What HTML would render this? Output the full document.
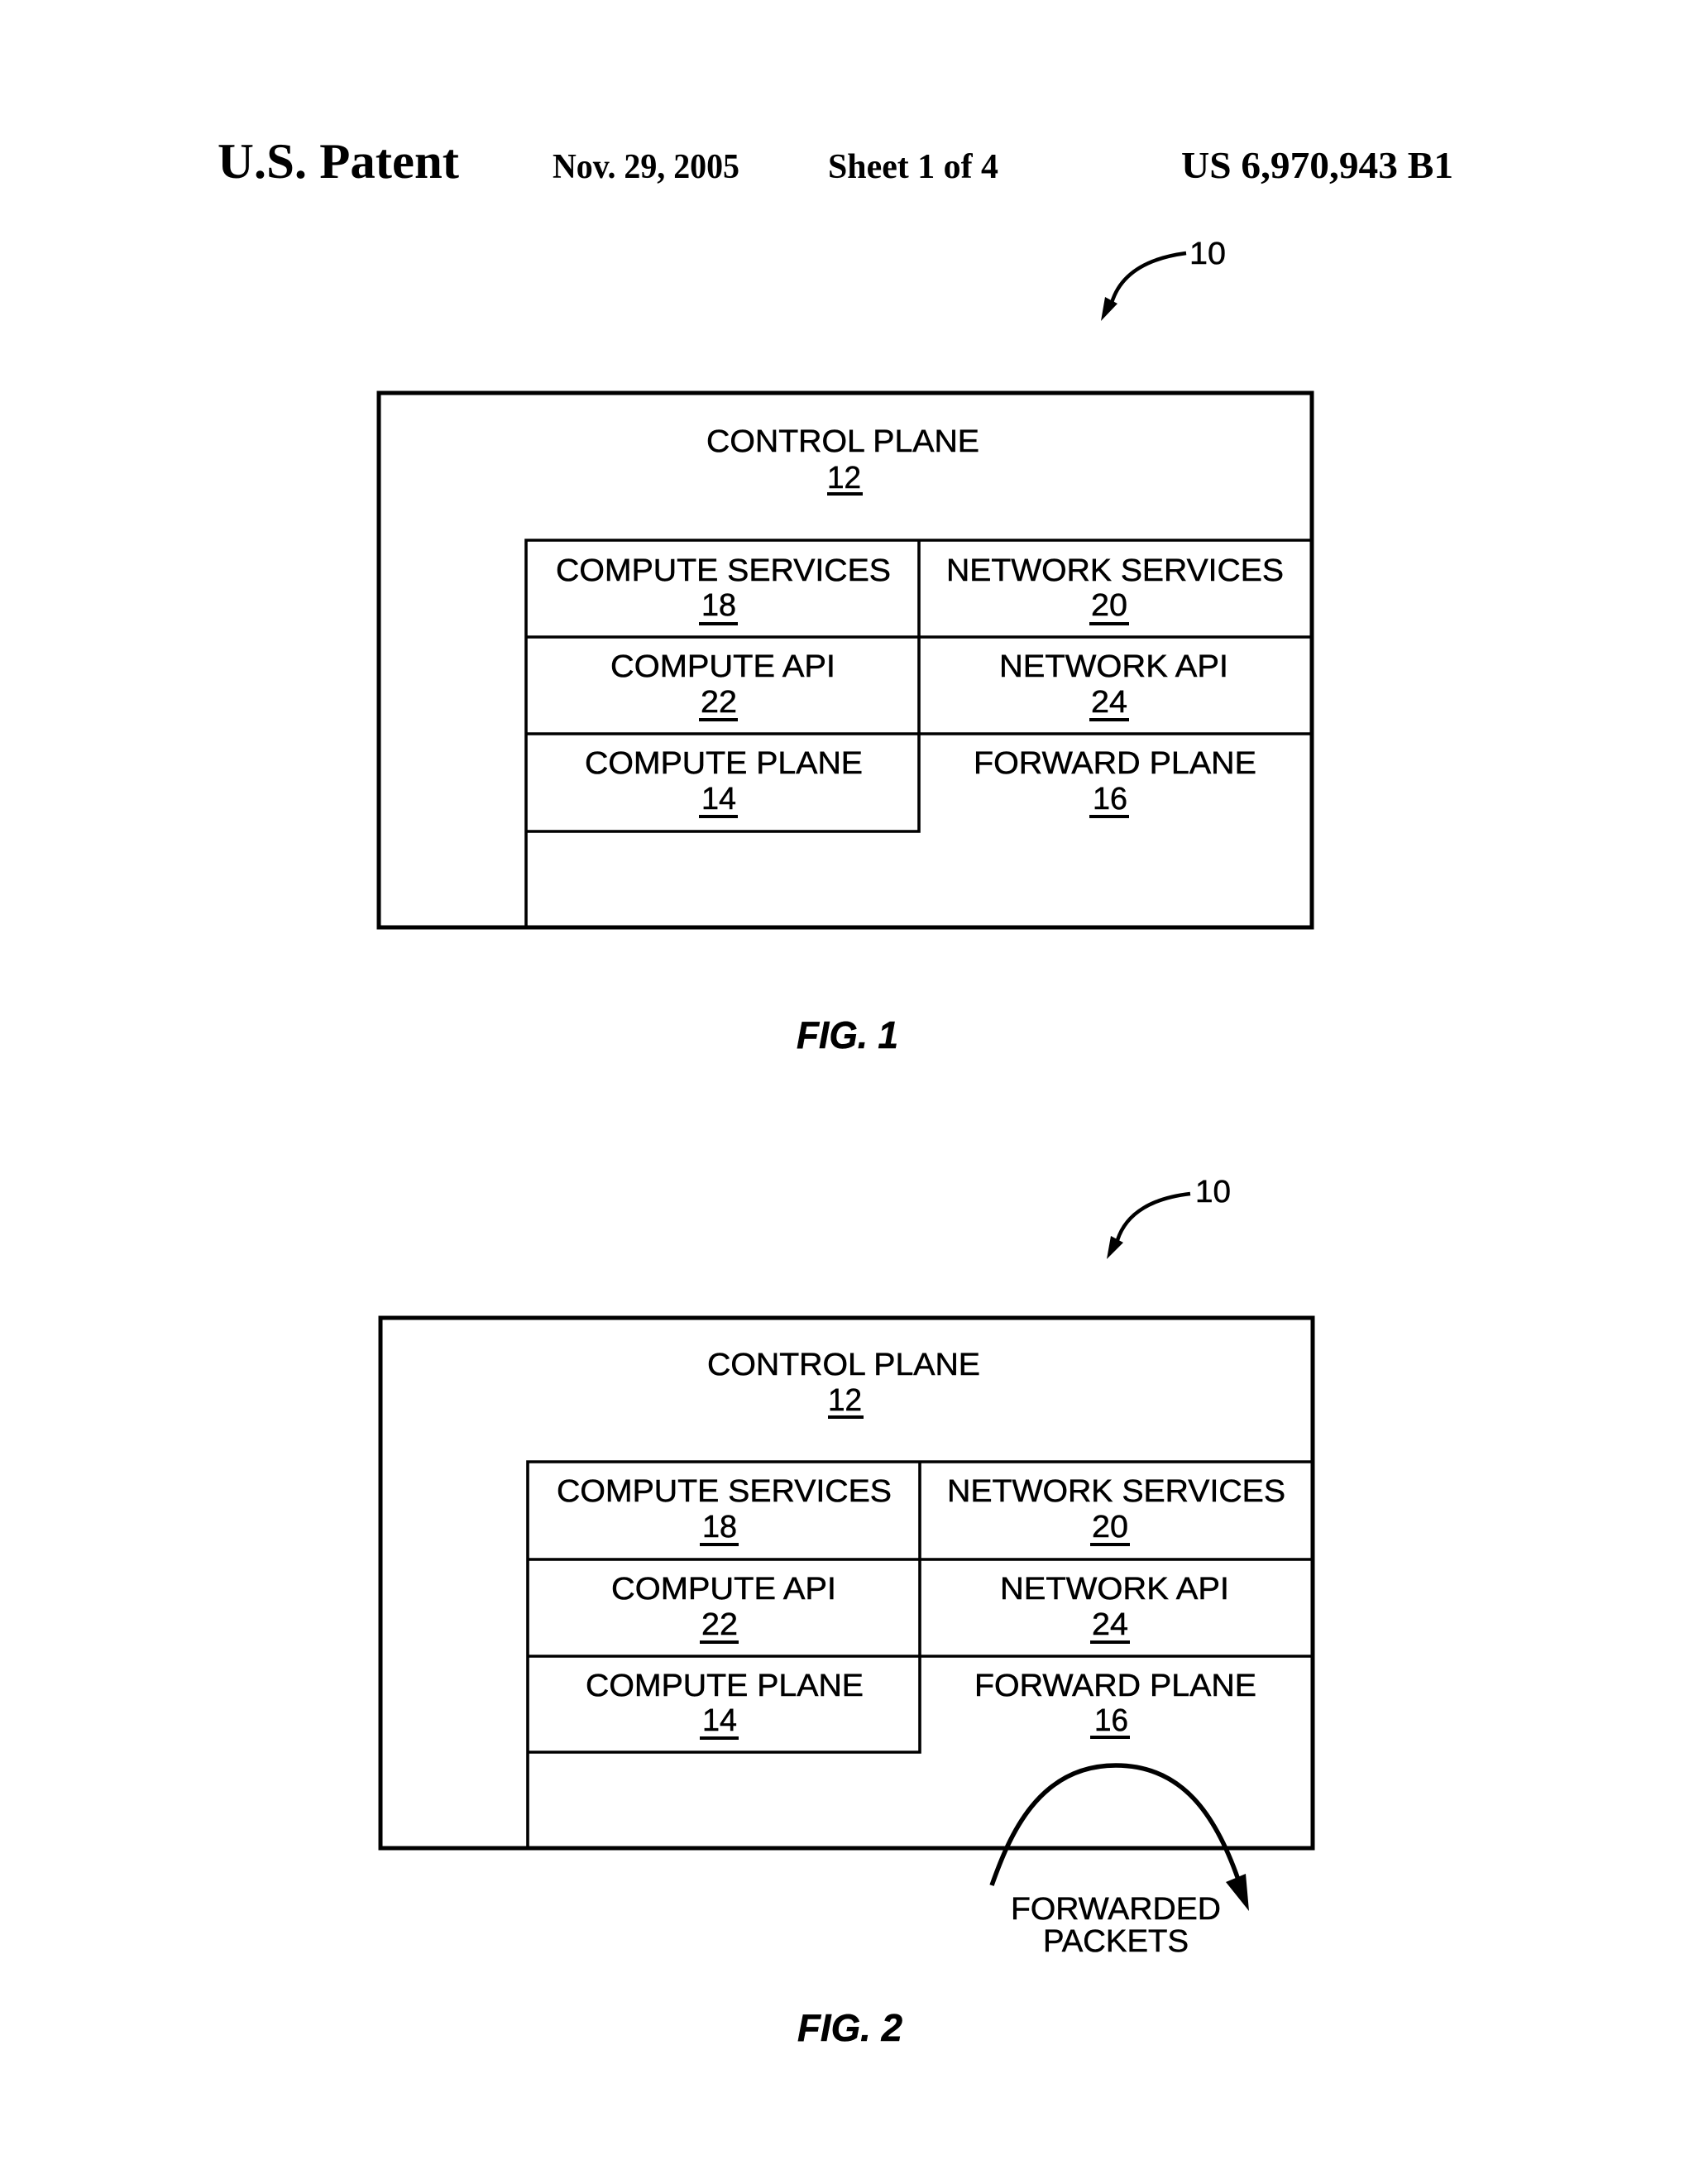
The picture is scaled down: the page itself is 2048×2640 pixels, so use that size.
<!DOCTYPE html>
<html><head><meta charset="utf-8"><style>
html,body{margin:0;padding:0;background:#fff;width:2048px;height:2640px;overflow:hidden}
svg{display:block}
text{fill:#000;stroke:#000;stroke-width:.5px;font-family:"Liberation Sans",sans-serif;font-size:38px}
.h{font-family:"Liberation Serif",serif;font-weight:bold;stroke-width:0}
.f{font-weight:bold;font-style:italic;font-size:46px}
</style></head><body>
<svg width="2048" height="2640" viewBox="0 0 2048 2640" xmlns="http://www.w3.org/2000/svg">
<rect width="2048" height="2640" fill="#fff"/>
<text class="h" x="263" y="215" style="font-size:60px" textLength="292" lengthAdjust="spacingAndGlyphs">U.S. Patent</text>
<text class="h" x="668" y="215" style="font-size:42px" textLength="226" lengthAdjust="spacingAndGlyphs">Nov. 29, 2005</text>
<text class="h" x="1001" y="215" style="font-size:42px" textLength="206" lengthAdjust="spacingAndGlyphs">Sheet 1 of 4</text>
<text class="h" x="1428" y="215" style="font-size:46px" textLength="329" lengthAdjust="spacingAndGlyphs">US 6,970,943 B1</text>

<!-- FIG 1 -->
<g fill="none" stroke="#000" stroke-linecap="square">
<rect x="458" y="475" width="1128" height="646" stroke-width="5"/>
<path d="M636 1121V653H1586M636 770H1586M636 887H1586M636 1005H1111V653" stroke-width="3.6"/>
</g>
<path d="M1434 306C1388 312 1355 330 1344 366" fill="none" stroke="#000" stroke-width="4.5"/>
<polygon points="1331,388 1336,359 1351,367" fill="#000"/>
<text x="1438" y="319" textLength="44" lengthAdjust="spacingAndGlyphs">10</text>
<text x="854" y="546" textLength="330" lengthAdjust="spacingAndGlyphs">CONTROL PLANE</text>
<text x="1000" y="590" textLength="41" lengthAdjust="spacingAndGlyphs">12</text>
<rect x="1000" y="595" width="43" height="4"/>
<text x="672" y="702" textLength="405" lengthAdjust="spacingAndGlyphs">COMPUTE SERVICES</text>
<text x="848" y="744" textLength="42" lengthAdjust="spacingAndGlyphs">18</text>
<rect x="845" y="752" width="47" height="4"/>
<text x="1144" y="702" textLength="408" lengthAdjust="spacingAndGlyphs">NETWORK SERVICES</text>
<text x="1319" y="744" textLength="44" lengthAdjust="spacingAndGlyphs">20</text>
<rect x="1317" y="752" width="48" height="4"/>
<text x="738" y="818" textLength="272" lengthAdjust="spacingAndGlyphs">COMPUTE API</text>
<text x="847" y="861" textLength="44" lengthAdjust="spacingAndGlyphs">22</text>
<rect x="845" y="868" width="47" height="4"/>
<text x="1208" y="818" textLength="277" lengthAdjust="spacingAndGlyphs">NETWORK API</text>
<text x="1319" y="861" textLength="44" lengthAdjust="spacingAndGlyphs">24</text>
<rect x="1317" y="868" width="48" height="4"/>
<text x="707" y="935" textLength="336" lengthAdjust="spacingAndGlyphs">COMPUTE PLANE</text>
<text x="848" y="978" textLength="42" lengthAdjust="spacingAndGlyphs">14</text>
<rect x="845" y="985" width="47" height="4"/>
<text x="1177" y="935" textLength="342" lengthAdjust="spacingAndGlyphs">FORWARD PLANE</text>
<text x="1321" y="978" textLength="42" lengthAdjust="spacingAndGlyphs">16</text>
<rect x="1317" y="985" width="48" height="4"/>
<text class="f" x="963" y="1267" textLength="123" lengthAdjust="spacingAndGlyphs">FIG. 1</text>

<!-- FIG 2 -->
<g fill="none" stroke="#000" stroke-linecap="square">
<rect x="460" y="1593" width="1127" height="641" stroke-width="5"/>
<path d="M638 2234V1767H1587M638 1885H1587M638 2002H1587M638 2118H1112V1767" stroke-width="3.6"/>
</g>
<path d="M1439 1443C1395 1448 1362 1465 1351 1499" fill="none" stroke="#000" stroke-width="4.5"/>
<polygon points="1338,1522 1343,1494 1358,1502" fill="#000"/>
<text x="1445" y="1453" textLength="43" lengthAdjust="spacingAndGlyphs">10</text>
<text x="855" y="1662" textLength="330" lengthAdjust="spacingAndGlyphs">CONTROL PLANE</text>
<text x="1001" y="1705" textLength="41" lengthAdjust="spacingAndGlyphs">12</text>
<rect x="1001" y="1711" width="43" height="4"/>
<text x="673" y="1815" textLength="405" lengthAdjust="spacingAndGlyphs">COMPUTE SERVICES</text>
<text x="849" y="1858" textLength="42" lengthAdjust="spacingAndGlyphs">18</text>
<rect x="846" y="1865" width="47" height="4"/>
<text x="1145" y="1815" textLength="409" lengthAdjust="spacingAndGlyphs">NETWORK SERVICES</text>
<text x="1320" y="1858" textLength="44" lengthAdjust="spacingAndGlyphs">20</text>
<rect x="1318" y="1865" width="48" height="4"/>
<text x="739" y="1933" textLength="272" lengthAdjust="spacingAndGlyphs">COMPUTE API</text>
<text x="848" y="1976" textLength="44" lengthAdjust="spacingAndGlyphs">22</text>
<rect x="846" y="1983" width="47" height="4"/>
<text x="1209" y="1933" textLength="277" lengthAdjust="spacingAndGlyphs">NETWORK API</text>
<text x="1320" y="1976" textLength="44" lengthAdjust="spacingAndGlyphs">24</text>
<rect x="1318" y="1983" width="48" height="4"/>
<text x="708" y="2050" textLength="336" lengthAdjust="spacingAndGlyphs">COMPUTE PLANE</text>
<text x="849" y="2092" textLength="42" lengthAdjust="spacingAndGlyphs">14</text>
<rect x="846" y="2099" width="47" height="4"/>
<text x="1178" y="2050" textLength="341" lengthAdjust="spacingAndGlyphs">FORWARD PLANE</text>
<text x="1323" y="2092" textLength="41" lengthAdjust="spacingAndGlyphs">16</text>
<rect x="1318" y="2098" width="48" height="4"/>
<path d="M1199 2279C1220 2220 1255 2134 1349 2134C1430 2134 1470 2195 1497 2272" fill="none" stroke="#000" stroke-width="5.5"/>
<polygon points="1510,2310 1482,2275 1506,2265" fill="#000"/>
<text x="1222" y="2320" textLength="254" lengthAdjust="spacingAndGlyphs">FORWARDED</text>
<text x="1261" y="2359" textLength="176" lengthAdjust="spacingAndGlyphs">PACKETS</text>
<text class="f" x="964" y="2467" textLength="127" lengthAdjust="spacingAndGlyphs">FIG. 2</text>
</svg>
</body></html>
